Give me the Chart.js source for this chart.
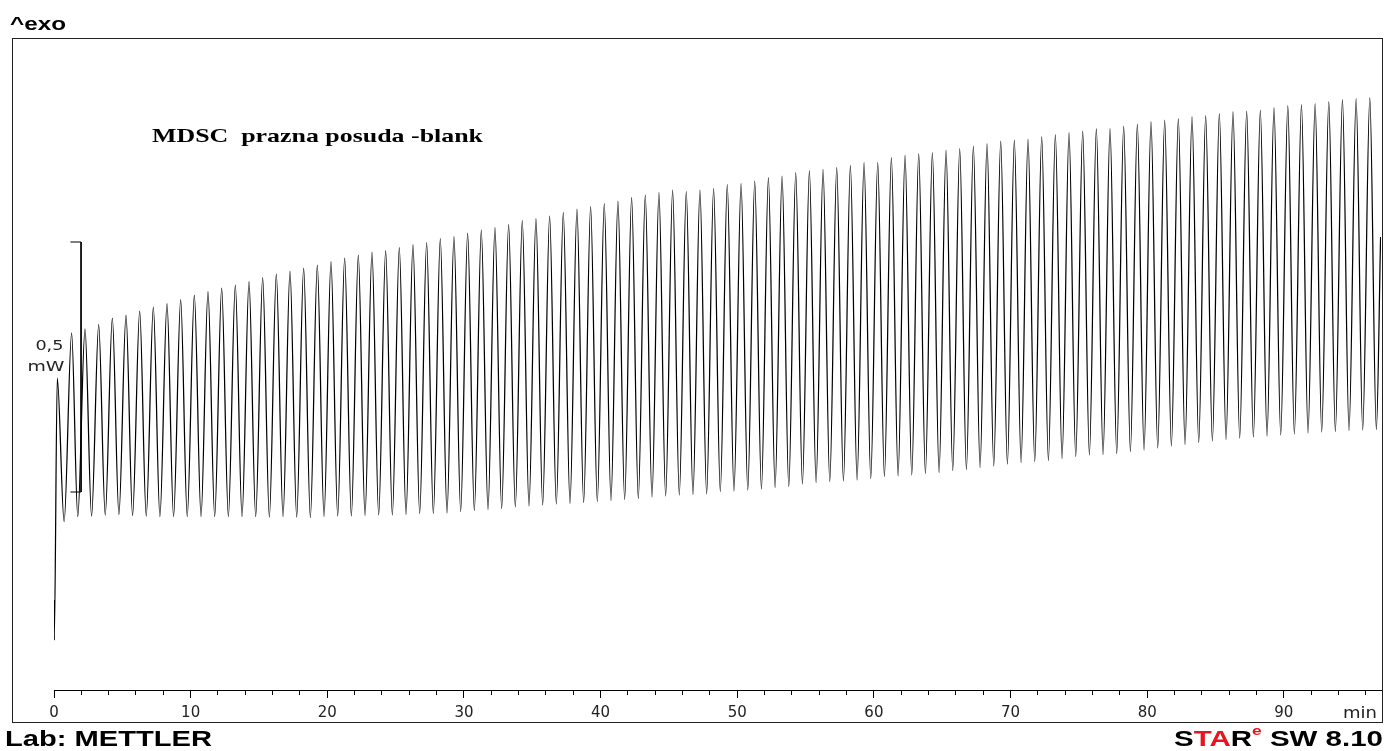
<!DOCTYPE html>
<html>
<head>
<meta charset="utf-8">
<title>MDSC prazna posuda - blank</title>
<script src="https://cdn.jsdelivr.net/npm/chart.js@4.4.1/dist/chart.umd.min.js"></script>
<style>
  html, body { margin: 0; padding: 0; background: #fff; }
  canvas { display: block; }
</style>
</head>
<body>
<canvas id="grafico" width="1385" height="751"></canvas>
<script>
// vrijeme u minutama, signal u mW (nula postavljena na donji kraj skale 0,5 mW)
const startMin = [0.00, 0.02];
const startMw = [-0.216, -0.296];

const peakMin = [
  0.24, 1.29, 2.27, 3.27, 4.27, 5.27, 6.27, 7.27, 8.27, 9.27,
  10.27, 11.27, 12.27, 13.27, 14.27, 15.27, 16.27, 17.27, 18.27, 19.27,
  20.27, 21.27, 22.27, 23.27, 24.27, 25.27, 26.27, 27.27, 28.27, 29.27,
  30.27, 31.27, 32.27, 33.27, 34.27, 35.27, 36.27, 37.27, 38.27, 39.27,
  40.27, 41.27, 42.27, 43.27, 44.27, 45.27, 46.27, 47.27, 48.27, 49.27,
  50.28, 51.28, 52.28, 53.28, 54.28, 55.28, 56.28, 57.28, 58.28, 59.28,
  60.28, 61.28, 62.28, 63.28, 64.28, 65.28, 66.28, 67.28, 68.28, 69.28,
  70.28, 71.28, 72.28, 73.28, 74.28, 75.28, 76.28, 77.28, 78.28, 79.28,
  80.28, 81.28, 82.28, 83.28, 84.28, 85.28, 86.28, 87.28, 88.28, 89.28,
  90.29, 91.29, 92.29, 93.29, 94.29, 95.29, 96.29
];
const peakMw = [
  0.228, 0.318, 0.326, 0.335, 0.348, 0.354, 0.362, 0.370, 0.377, 0.385,
  0.394, 0.401, 0.408, 0.414, 0.421, 0.429, 0.436, 0.442, 0.448, 0.454,
  0.461, 0.468, 0.474, 0.480, 0.483, 0.489, 0.495, 0.499, 0.507, 0.511,
  0.518, 0.524, 0.529, 0.535, 0.543, 0.547, 0.552, 0.559, 0.566, 0.571,
  0.577, 0.582, 0.589, 0.594, 0.599, 0.604, 0.601, 0.604, 0.607, 0.615,
  0.617, 0.622, 0.629, 0.632, 0.639, 0.643, 0.645, 0.649, 0.653, 0.659,
  0.659, 0.669, 0.674, 0.677, 0.679, 0.684, 0.687, 0.692, 0.697, 0.702,
  0.704, 0.706, 0.711, 0.715, 0.719, 0.722, 0.727, 0.727, 0.732, 0.736,
  0.741, 0.744, 0.747, 0.751, 0.753, 0.757, 0.761, 0.762, 0.764, 0.769,
  0.773, 0.775, 0.777, 0.781, 0.785, 0.787, 0.789
];

const troughMin = [
  0.74, 1.74, 2.75, 3.75, 4.75, 5.75, 6.75, 7.75, 8.75, 9.75,
  10.76, 11.76, 12.76, 13.76, 14.76, 15.76, 16.76, 17.76, 18.76, 19.76,
  20.76, 21.76, 22.76, 23.76, 24.76, 25.76, 26.76, 27.76, 28.76, 29.76,
  30.76, 31.76, 32.76, 33.76, 34.76, 35.76, 36.76, 37.76, 38.76, 39.76,
  40.76, 41.76, 42.76, 43.76, 44.76, 45.76, 46.76, 47.76, 48.76, 49.76,
  50.77, 51.77, 52.77, 53.77, 54.77, 55.77, 56.77, 57.77, 58.77, 59.77,
  60.77, 61.77, 62.77, 63.77, 64.77, 65.77, 66.77, 67.77, 68.77, 69.77,
  70.77, 71.77, 72.77, 73.77, 74.77, 75.77, 76.77, 77.77, 78.77, 79.77,
  80.77, 81.77, 82.77, 83.77, 84.77, 85.77, 86.77, 87.77, 88.77, 89.77,
  90.77, 91.77, 92.77, 93.77, 94.77, 95.77, 96.77
];
const troughMw = [
  -0.059, -0.049, -0.048, -0.046, -0.045, -0.047, -0.048, -0.049, -0.049, -0.049,
  -0.049, -0.049, -0.049, -0.049, -0.049, -0.050, -0.049, -0.050, -0.051, -0.049,
  -0.048, -0.048, -0.047, -0.046, -0.046, -0.045, -0.043, -0.043, -0.042, -0.039,
  -0.037, -0.035, -0.033, -0.030, -0.028, -0.026, -0.024, -0.023, -0.021, -0.019,
  -0.017, -0.015, -0.013, -0.010, -0.008, -0.006, -0.005, -0.004, 0.001, 0.002,
  0.004, 0.006, 0.009, 0.011, 0.016, 0.019, 0.021, 0.022, 0.024, 0.027,
  0.031, 0.032, 0.034, 0.037, 0.039, 0.043, 0.045, 0.049, 0.052, 0.056,
  0.059, 0.061, 0.063, 0.067, 0.071, 0.074, 0.075, 0.077, 0.081, 0.084,
  0.088, 0.092, 0.095, 0.099, 0.102, 0.105, 0.108, 0.110, 0.112, 0.114,
  0.116, 0.118, 0.120, 0.121, 0.123, 0.124, 0.125
];

const endMin = [97.08];
const endMw = [0.510];

// skala 0,5 mW (okomita crta s kratkim krakovima)
const scaleBarMin = [1.20, 1.98, 1.98, 1.20];
const scaleBarMw = [0.5, 0.5, 0.0, 0.0];

const xMin = 0;
const xMax = 97.11;
const yMin = -0.396;
const yMax = 0.908;
const majorStep = 10;
const minorStep = 2;

// slaže krivulju: početak, pa vrh/dol za svaki ciklus, pa kraj
const curve = [];
startMin.forEach((t, i) => curve.push({ x: t, y: startMw[i] }));
peakMin.forEach((t, i) => {
    curve.push({ x: t, y: peakMw[i] });
    curve.push({ x: troughMin[i], y: troughMw[i] });
});
endMin.forEach((t, i) => curve.push({ x: t, y: endMw[i] }));

const scaleBar = scaleBarMin.map((t, i) => ({ x: t, y: scaleBarMw[i] }));

// tekst razvučen vodoravno na zadanu širinu
function stretchText(ctx, text, x, y, font, color, width, align) {
    ctx.save();
    ctx.font = font;
    ctx.fillStyle = color;
    ctx.textAlign = 'left';
    ctx.textBaseline = 'alphabetic';
    const w = ctx.measureText(text).width;
    const sx = width / w;
    let x0 = x;
    if (align === 'right') x0 = x - width;
    if (align === 'center') x0 = x - width / 2;
    ctx.translate(x0, y);
    ctx.scale(sx, 1);
    ctx.fillText(text, 0, 0);
    ctx.restore();
}

const okvir = {
    id: 'okvir',
    afterDraw(chart) {
        const ctx = chart.ctx;
        ctx.save();
        ctx.strokeStyle = '#222';
        ctx.lineWidth = 1;
        ctx.strokeRect(12.5, 38.5, 1370, 684);
        ctx.restore();

        stretchText(ctx, '^exo', 10, 30, 'bold 19px "Liberation Sans", Arial, sans-serif', '#000', 56, 'left');
        stretchText(ctx, 'MDSC  prazna posuda -blank', 152, 142, 'bold 19px "Liberation Serif", "Times New Roman", serif', '#000', 331, 'left');

        const yS = chart.scales.y;
        const xS = chart.scales.x;
        const barX = xS.getPixelForValue(scaleBarMin[0]) - 7;
        stretchText(ctx, '0,5', barX, yS.getPixelForValue(0.284), '14px "DejaVu Sans", sans-serif', '#222', 28, 'right');
        stretchText(ctx, 'mW', barX + 1, yS.getPixelForValue(0.242), '14px "DejaVu Sans", sans-serif', '#222', 37, 'right');

        stretchText(ctx, 'min', 1343, xS.top + 28, '15px "DejaVu Sans", sans-serif', '#222', 34, 'left');

        stretchText(ctx, 'Lab: METTLER', 5, 746, 'bold 22px "Liberation Sans", Arial, sans-serif', '#000', 207, 'left');

        // STARe SW 8.10
        const bold = 'bold 22px "Liberation Sans", Arial, sans-serif';
        const sup = 'bold 13px "Liberation Sans", Arial, sans-serif';
        const dijelovi = [
            { t: 'S', c: '#000', f: bold, dy: 0 },
            { t: 'TA', c: '#e8141e', f: bold, dy: 0 },
            { t: 'R', c: '#000', f: bold, dy: 0 },
            { t: 'e', c: '#e8141e', f: sup, dy: -11 },
            { t: ' SW 8.10', c: '#000', f: bold, dy: 0 }
        ];
        ctx.save();
        let ukupno = 0;
        dijelovi.forEach(d => { ctx.font = d.f; d.w = ctx.measureText(d.t).width; ukupno += d.w; });
        const sx = 209 / ukupno;
        let px = 1383 - 209;
        dijelovi.forEach(d => {
            ctx.save();
            ctx.font = d.f;
            ctx.fillStyle = d.c;
            ctx.textBaseline = 'alphabetic';
            ctx.translate(px, 746 + d.dy);
            ctx.scale(sx, 1);
            ctx.fillText(d.t, 0, 0);
            ctx.restore();
            px += d.w * sx;
        });
        ctx.restore();
    }
};

Chart.defaults.font.family = '"DejaVu Sans", sans-serif';

const ctx = document.getElementById('grafico').getContext('2d');
window.grafico = new Chart(ctx, {
    type: 'line',
    data: {
        datasets: [
            {
                label: 'MDSC blank',
                data: curve,
                borderColor: '#000',
                borderWidth: 1.25,
                pointRadius: 0,
                cubicInterpolationMode: 'monotone',
                fill: false
            },
            {
                label: '0,5 mW',
                data: scaleBar,
                borderColor: '#000',
                borderWidth: 1,
                pointRadius: 0,
                tension: 0,
                fill: false
            }
        ]
    },
    options: {
        responsive: false,
        devicePixelRatio: 1,
        animation: false,
        events: [],
        layout: { padding: { left: 54, right: 4, top: 38, bottom: 0 } },
        plugins: {
            legend: { display: false },
            tooltip: { enabled: false }
        },
        scales: {
            x: {
                type: 'linear',
                position: 'bottom',
                min: xMin,
                max: xMax,
                afterFit(scale) { scale.height = 61; },
                ticks: {
                    stepSize: majorStep,
                    includeBounds: false,
                    autoSkip: false,
                    maxRotation: 0,
                    padding: 6,
                    color: '#222',
                    font: { size: 15 }
                },
                grid: {
                    drawOnChartArea: false,
                    drawTicks: true,
                    tickLength: 8,
                    tickColor: '#000',
                    tickWidth: 1
                },
                border: { display: true, color: '#000', width: 1 }
            },
            x2: {
                type: 'linear',
                axis: 'x',
                position: { y: yMin },
                min: xMin,
                max: xMax,
                ticks: { stepSize: minorStep, includeBounds: false, autoSkip: false, display: false },
                grid: {
                    drawOnChartArea: false,
                    drawTicks: true,
                    tickLength: 5,
                    tickColor: '#000',
                    tickWidth: 1
                },
                border: { display: false }
            },
            y: {
                type: 'linear',
                display: false,
                min: yMin,
                max: yMax
            }
        }
    },
    plugins: [okvir]
});
</script>
</body>
</html>
